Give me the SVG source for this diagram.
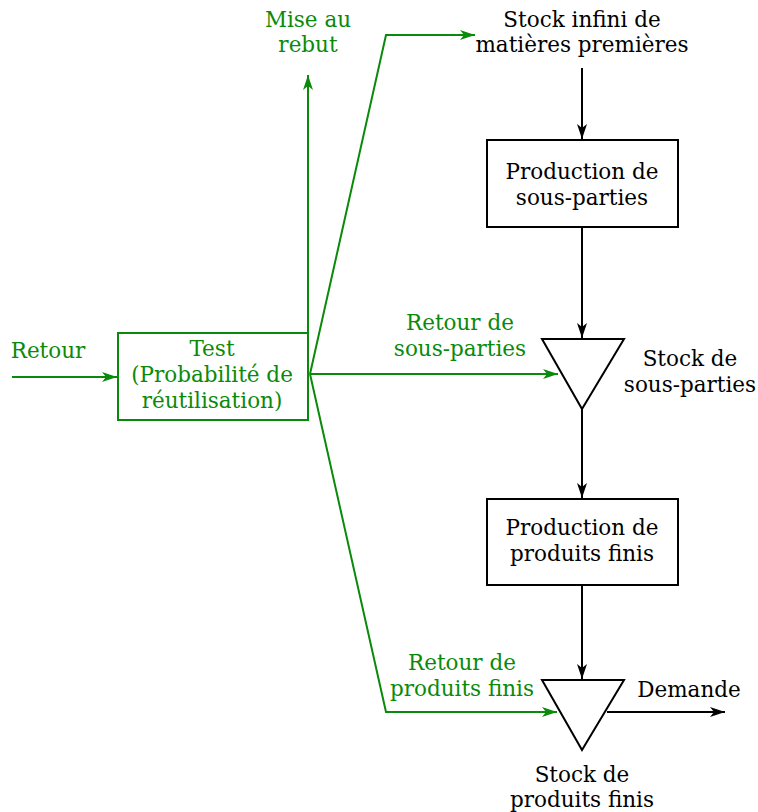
<svg xmlns="http://www.w3.org/2000/svg" width="758" height="812" viewBox="0 0 758 812">
<style>
text{font-family:"DejaVu Serif",serif;font-size:21.5px;text-anchor:middle}
.g{fill:#0a8a0a}
.k{fill:#000}
.lg{fill:none;stroke:#0a8a0a;stroke-width:2}
.lk{fill:none;stroke:#000;stroke-width:2}
</style>
<defs>
<marker id="ag" viewBox="0 0 15 10" refX="15" refY="5" markerWidth="15" markerHeight="10" markerUnits="userSpaceOnUse" orient="auto"><path d="M0,0 L15,5 L0,10 L4,5 Z" fill="#0a8a0a"/></marker>
<marker id="ak" viewBox="0 0 15 10" refX="15" refY="5" markerWidth="15" markerHeight="10" markerUnits="userSpaceOnUse" orient="auto"><path d="M0,0 L15,5 L0,10 L4,5 Z" fill="#000"/></marker>
</defs>
<g id="connectors">
<path class="lg" d="M12,377 H117" marker-end="url(#ag)"/>
<path class="lg" d="M308,333 V75" marker-end="url(#ag)"/>
<path class="lg" d="M310,374 L386,35 H475" marker-end="url(#ag)"/>
<path class="lg" d="M310,374 H558" marker-end="url(#ag)"/>
<path class="lg" d="M310,374 L386,712 H557" marker-end="url(#ag)"/>
<path class="lk" d="M582,68 V139" marker-end="url(#ak)"/>
<path class="lk" d="M582,228 V338" marker-end="url(#ak)"/>
<path class="lk" d="M582,409 V498" marker-end="url(#ak)"/>
<path class="lk" d="M582,586 V679" marker-end="url(#ak)"/>
<path class="lk" d="M607,712 H725" marker-end="url(#ak)"/>
</g>
<g id="retour"><text class="g" x="48" y="358">Retour</text></g>
<g id="test">
<rect class="lg" x="118" y="333" width="190" height="87"/>
<text class="g" x="212" y="356">Test</text>
<text class="g" x="212" y="382">(Probabilité de</text>
<text class="g" x="212" y="408">réutilisation)</text>
</g>
<g id="rebut"><text class="g" x="308" y="27">Mise au</text><text class="g" x="308" y="52">rebut</text></g>
<g id="stock-infini"><text class="k" x="582" y="27">Stock infini de</text><text class="k" x="582" y="52">matières premières</text></g>
<g id="prod-sous-parties">
<rect class="lk" x="487" y="140" width="191" height="87"/>
<text class="k" x="582" y="179">Production de</text>
<text class="k" x="582" y="205">sous-parties</text>
</g>
<g id="lbl-retour-sp"><text class="g" x="460" y="330">Retour de</text><text class="g" x="460" y="356">sous-parties</text></g>
<g id="stock-sous-parties">
<path class="lk" d="M542,339 H624 L582,409 Z" fill="#fff"/>
<text class="k" x="690" y="366">Stock de</text>
<text class="k" x="690" y="392">sous-parties</text>
</g>
<g id="prod-produits-finis">
<rect class="lk" x="487" y="499" width="191" height="86"/>
<text class="k" x="582" y="535">Production de</text>
<text class="k" x="582" y="561">produits finis</text>
</g>
<g id="lbl-retour-pf"><text class="g" x="462" y="670">Retour de</text><text class="g" x="462" y="696">produits finis</text></g>
<g id="stock-produits-finis">
<path class="lk" d="M542,680 H624 L582,750 Z"/>
<text class="k" x="582" y="782">Stock de</text>
<text class="k" x="582" y="807">produits finis</text>
</g>
<g id="demande"><text class="k" x="689" y="697">Demande</text></g>
</svg>
